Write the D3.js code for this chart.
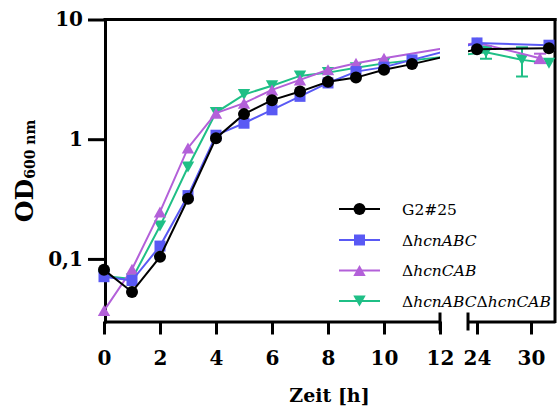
<!DOCTYPE html>
<html>
<head>
<meta charset="utf-8">
<script src="https://cdn.jsdelivr.net/npm/d3@7"></script>
<style>
  body { margin: 0; background: #fff; }
  svg { display: block; font-family: "DejaVu Serif", serif; }
</style>
</head>
<body>
<svg id="chart" width="558" height="407"></svg>
<script>
// Growth curves: OD600 over time, broken time axis (0–12 h | 24–32 h)
const earlyTicks = [0, 2, 4, 6, 8, 10, 12];
const lateTicks = [24, 30];
const yTicks = [0.1, 1, 10];
const yTickLabels = ["0,1", "1", "10"];

const seriesNames = ["G2#25", "ΔhcnABC", "ΔhcnCAB", "ΔhcnABCΔhcnCAB"];
const seriesColors = ["#000000", "#5959f4", "#b360d9", "#1fbf86"];
const seriesShapes = ["circle", "square", "triangle", "triangleDown"];

const g2Time = [0, 1, 2, 3, 4, 5, 6, 7, 8, 9, 10, 11, 24, 32];
const g2OD   = [0.081, 0.053, 0.104, 0.318, 1.02, 1.62, 2.12, 2.5, 3.02, 3.27, 3.8, 4.24, 5.65, 5.75];
const g2Err  = [0, 0, 0, 0, 0, 0, 0, 0, 0, 0, 0, 0, 0, 0];

const abcTime = [0, 1, 2, 3, 4, 5, 6, 7, 8, 9, 10, 11, 24, 32];
const abcOD   = [0.071, 0.066, 0.128, 0.338, 1.08, 1.36, 1.76, 2.28, 2.95, 3.67, 4.0, 4.6, 6.37, 6.1];
const abcErr  = [0, 0, 0, 0, 0, 0, 0, 0, 0, 0, 0, 0, 0, 0];

const cabTime = [0, 1, 2, 3, 4, 5, 6, 7, 8, 9, 10, 24, 31];
const cabOD   = [0.037, 0.082, 0.247, 0.845, 1.65, 2.0, 2.58, 3.13, 3.8, 4.31, 4.75, 6.4, 4.75];
const cabErr  = [0, 0, 0, 0, 0, 0, 0, 0, 0, 0, 0, 0, 0.43];

const dblTime = [0, 1, 2, 3, 4, 5, 6, 7, 8, 9, 10, 25, 29, 32];
const dblOD   = [0.072, 0.068, 0.188, 0.586, 1.67, 2.36, 2.8, 3.38, 3.6, 3.96, 4.3, 5.33, 4.6, 4.32];
const dblErr  = [0, 0, 0, 0, 0, 0, 0, 0, 0, 0, 0, 0.63, 1.26, 0];

const seriesTimes = [g2Time, abcTime, cabTime, dblTime];
const seriesValues = [g2OD, abcOD, cabOD, dblOD];
const seriesErrors = [g2Err, abcErr, cabErr, dblErr];

const series = seriesNames.map((name, i) => ({
  name,
  color: seriesColors[i],
  shape: seriesShapes[i],
  points: seriesTimes[i].map((t, j) => ({ t, v: seriesValues[i][j], e: seriesErrors[i][j] }))
}));

// ---- layout ----
const svg = d3.select("#chart");
const plotLeft = 105, plotRight = 555, plotTop = 19.5, plotBottom = 321.5;
const gapStart = 440, gapEnd = 468;

const xEarly = d3.scaleLinear().domain([0, 12]).range([104, gapStart]);
const xLate = d3.scaleLinear().domain([23, 32.67]).range([gapEnd, plotRight]);
const xPos = t => (t <= 12 ? xEarly(t) : xLate(t));
const y = d3.scaleLog().domain([0.03, 10]).range([plotBottom, plotTop]);

const AXIS_W = 3;

// ---- frame (top and right border) ----
svg.append("line")
  .attr("x1", plotLeft).attr("x2", plotRight)
  .attr("y1", plotTop).attr("y2", plotTop)
  .attr("stroke", "#000").attr("stroke-width", AXIS_W).attr("stroke-linecap", "square");
svg.append("line")
  .attr("x1", plotRight).attr("x2", plotRight)
  .attr("y1", plotTop).attr("y2", plotBottom)
  .attr("stroke", "#000").attr("stroke-width", AXIS_W).attr("stroke-linecap", "square");

// ---- axes ----
function styleAxis(g, fontSize) {
  g.selectAll("path.domain").attr("stroke-width", AXIS_W).attr("stroke-linecap", "square");
  g.selectAll(".tick line").attr("stroke-width", AXIS_W);
  g.selectAll(".tick text")
    .attr("font-family", "DejaVu Serif, serif")
    .attr("font-weight", "bold")
    .attr("font-size", fontSize)
    .attr("fill", "#000");
}

const yAxis = svg.append("g")
  .attr("transform", `translate(${plotLeft},0)`)
  .call(d3.axisLeft(y).tickValues(yTicks)
    .tickFormat((d, i) => yTickLabels[i])
    .tickSize(17).tickSizeOuter(0).tickPadding(5));
styleAxis(yAxis, 20);

const xAxisEarly = svg.append("g")
  .attr("transform", `translate(0,${plotBottom})`)
  .call(d3.axisBottom(xEarly).tickValues(earlyTicks)
    .tickSize(13).tickSizeOuter(0).tickPadding(16));
styleAxis(xAxisEarly, 20);
xAxisEarly.select("path.domain").attr("stroke-linecap", "butt");

const xAxisLate = svg.append("g")
  .attr("transform", `translate(0,${plotBottom})`)
  .call(d3.axisBottom(xLate).tickValues(lateTicks)
    .tickSize(13).tickSizeOuter(0).tickPadding(16));
styleAxis(xAxisLate, 20);
xAxisLate.select("path.domain").attr("stroke-linecap", "butt");

// break caps at both sides of the gap
[gapStart, gapEnd].forEach(xv => {
  svg.append("line")
    .attr("x1", xv).attr("x2", xv)
    .attr("y1", plotBottom - 9).attr("y2", plotBottom + 9)
    .attr("stroke", "#000").attr("stroke-width", AXIS_W);
});

// axis titles
svg.append("text")
  .attr("x", (104 + plotRight) / 2).attr("y", 402)
  .attr("text-anchor", "middle")
  .attr("font-weight", "bold").attr("font-size", 19)
  .text("Zeit [h]");

const yTitle = svg.append("text")
  .attr("transform", "translate(33,171) rotate(-90)")
  .attr("text-anchor", "middle")
  .attr("font-weight", "bold");
yTitle.append("tspan").attr("font-size", 25).text("OD");
yTitle.append("tspan").attr("font-size", 14).attr("dy", 2).text("600 nm");

// ---- data ----
const clip = svg.append("defs").append("clipPath").attr("id", "plot-clip");
clip.append("rect").attr("x", 0).attr("y", 0).attr("width", gapStart).attr("height", 407);
clip.append("rect").attr("x", gapEnd).attr("y", 0).attr("width", 558 - gapEnd).attr("height", 407);

const line = d3.line().x(d => xPos(d.t)).y(d => y(d.v));

function symbolPath(shape) {
  switch (shape) {
    case "circle": return d3.symbol(d3.symbolCircle, Math.PI * 36)();
    case "square": return d3.symbol(d3.symbolSquare, 121)();
    case "triangle": return "M0,-5.5L6.2,5.5L-6.2,5.5Z";
    case "triangleDown": return "M0,5.5L6.2,-5.5L-6.2,-5.5Z";
  }
}

const drawOrder = series.slice().reverse();

drawOrder.forEach(s => {
  const g = svg.append("g");
  g.append("path")
    .datum(s.points)
    .attr("clip-path", "url(#plot-clip)")
    .attr("fill", "none")
    .attr("stroke", s.color)
    .attr("stroke-width", 2)
    .attr("d", line);

  const withErr = s.points.filter(p => p.e > 0);
  withErr.forEach(p => {
    const cx = xPos(p.t);
    const y0 = y(p.v - p.e), y1 = y(p.v + p.e);
    g.append("line").attr("x1", cx).attr("x2", cx).attr("y1", y0).attr("y2", y1)
      .attr("stroke", s.color).attr("stroke-width", 2);
    [y0, y1].forEach(yy => {
      g.append("line").attr("x1", cx - 6).attr("x2", cx + 6).attr("y1", yy).attr("y2", yy)
        .attr("stroke", s.color).attr("stroke-width", 2);
    });
  });

  g.selectAll("path.mark")
    .data(s.points)
    .join("path")
    .attr("class", "mark")
    .attr("transform", d => `translate(${xPos(d.t)},${y(d.v)})`)
    .attr("d", symbolPath(s.shape))
    .attr("fill", s.color);
});

// ---- legend ----
const legendRows = [209, 240, 270.5, 301];
const legend = svg.append("g");
series.forEach((s, i) => {
  const ly = legendRows[i];
  legend.append("line")
    .attr("x1", 339).attr("x2", 380).attr("y1", ly).attr("y2", ly)
    .attr("stroke", s.color).attr("stroke-width", 2);
  legend.append("path")
    .attr("transform", `translate(359.5,${ly})`)
    .attr("d", symbolPath(s.shape))
    .attr("fill", s.color);
  const t = legend.append("text")
    .attr("x", 402).attr("y", ly).attr("dy", "0.36em")
    .attr("font-size", 15.5).attr("fill", "#000");
  s.name.split(/(Δ)/).filter(p => p.length).forEach(part => {
    t.append("tspan")
      .attr("font-style", part === "Δ" || !s.name.includes("Δ") ? "normal" : "italic")
      .text(part);
  });
});
</script>
</body>
</html>
